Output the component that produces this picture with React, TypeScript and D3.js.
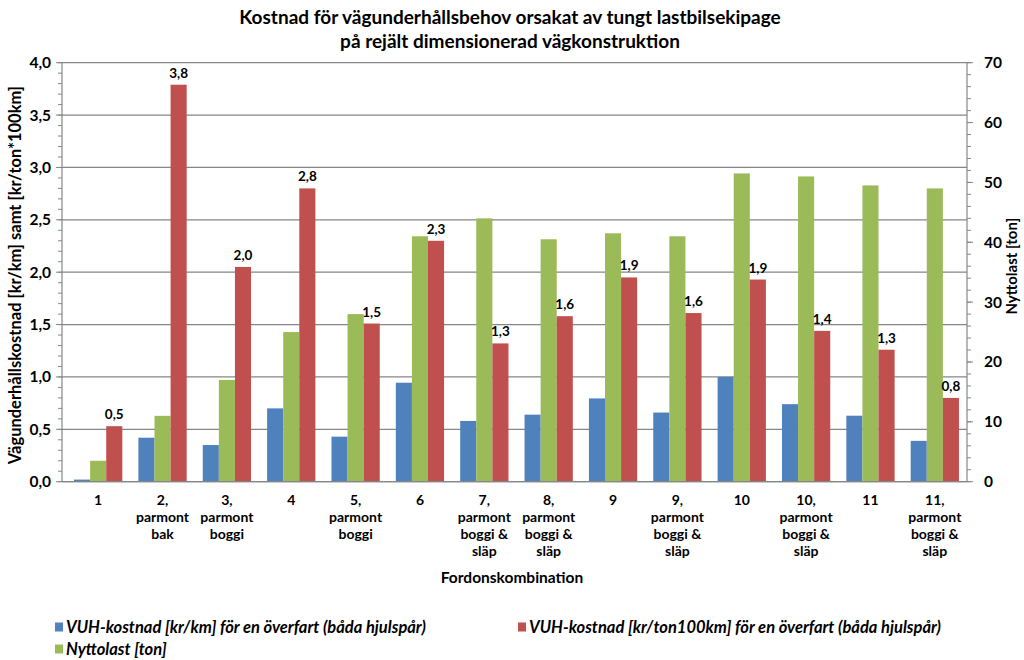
import React from 'react';
import * as d3 from 'd3';

// Categories (vehicle combinations), one line per row of the label
const categories = [
  '1',
  '2,\nparmont\nbak',
  '3,\nparmont\nboggi',
  '4',
  '5,\nparmont\nboggi',
  '6',
  '7,\nparmont\nboggi &\nsläp',
  '8,\nparmont\nboggi &\nsläp',
  '9',
  '9,\nparmont\nboggi &\nsläp',
  '10',
  '10,\nparmont\nboggi &\nsläp',
  '11',
  '11,\nparmont\nboggi &\nsläp'
];

// VUH-kostnad [kr/km]
const costPerKm = [0.02, 0.42, 0.35, 0.70, 0.43, 0.945, 0.58, 0.64, 0.795, 0.66, 1.0, 0.74, 0.63, 0.39];
// VUH-kostnad [kr/ton100km]
const costPerTon = [0.53, 3.79, 2.05, 2.80, 1.51, 2.30, 1.32, 1.58, 1.95, 1.61, 1.93, 1.44, 1.26, 0.80];
// Nyttolast [ton] (right axis)
const payload = [3.5, 11.0, 17.0, 25.0, 28.0, 41.0, 44.0, 40.5, 41.5, 41.0, 51.5, 51.0, 49.5, 49.0];

const leftTicks = [0, 0.5, 1, 1.5, 2, 2.5, 3, 3.5, 4];
const rightTicks = [0, 10, 20, 30, 40, 50, 60, 70];

const titleLines = [
  'Kostnad för vägunderhållsbehov orsakat av tungt lastbilsekipage',
  'på rejält dimensionerad vägkonstruktion'
];
const seriesNames = [
  'VUH-kostnad [kr/km] för en överfart (båda hjulspår)',
  'VUH-kostnad [kr/ton100km] för en överfart (båda hjulspår)',
  'Nyttolast [ton]'
];

const BLUE = '#4F81BD';
const RED = '#C0504D';
const GREEN = '#9BBB59';
const GRID = '#868686';
const FONT = 'Lato, "Open Sans", sans-serif';

const width = 1024;
const height = 660;
const plot = { left: 62, right: 967, top: 62.7, bottom: 481.7 };

const comma = (v: number, f = '.1f') => d3.format(f)(v).replace('.', ',');

export default function App() {
  const x = d3.scaleBand<number>()
    .domain(d3.range(categories.length))
    .range([plot.left + 4, plot.right])
    .paddingInner(0.25)
    .paddingOuter(0.125);

  const inner = d3.scaleBand<number>()
    .domain([0, 1, 2])
    .range([0, x.bandwidth()]);

  const yLeft = d3.scaleLinear().domain([0, 4]).range([plot.bottom, plot.top]);
  const yRight = d3.scaleLinear().domain([0, 70]).range([plot.bottom, plot.top]);

  const leftMinor = d3.range(0, 4.0001, 0.1);
  const rightMinor = d3.range(0, 70.001, 2);

  const bars = [
    { values: costPerKm, scale: yLeft, color: BLUE },
    { values: payload, scale: yRight, color: GREEN },
    { values: costPerTon, scale: yLeft, color: RED }
  ];

  return (
    <svg width={width} height={height} style={{ position: 'absolute', left: 0, top: 0, background: '#fff' }}
      fontFamily={FONT}>
      {/* title */}
      {titleLines.map((t, i) => (
        <text key={i} x={510} y={24 + i * 24} textAnchor="middle" fontSize={19} fontWeight="bold" fill="#000">{t}</text>
      ))}

      {/* gridlines */}
      {leftTicks.map(t => (
        <line key={t} x1={plot.left} x2={plot.right} y1={yLeft(t)} y2={yLeft(t)} stroke={GRID} strokeWidth={1.2} />
      ))}

      {/* bars */}
      {bars.map((s, si) => s.values.map((v, i) => (
        <rect key={`${si}-${i}`}
          x={(x(i) ?? 0) + (inner(si) ?? 0)}
          y={s.scale(v)}
          width={inner.bandwidth()}
          height={plot.bottom - s.scale(v)}
          fill={s.color} />
      )))}

      {/* data labels on red series */}
      {costPerTon.map((v, i) => (
        <text key={i}
          x={(x(i) ?? 0) + (inner(2) ?? 0) + inner.bandwidth() / 2}
          y={yLeft(v) - 7}
          textAnchor="middle" fontSize={13.5} fontWeight="bold" fill="#000">{comma(v)}</text>
      ))}

      {/* left axis */}
      <line x1={plot.left} x2={plot.left} y1={plot.top} y2={plot.bottom} stroke={GRID} strokeWidth={1.2} />
      {leftMinor.map((t, i) => (
        <line key={i} x1={plot.left - 4} x2={plot.left} y1={yLeft(t)} y2={yLeft(t)} stroke={GRID} />
      ))}
      {leftTicks.map(t => (
        <g key={t}>
          <line x1={plot.left - 6} x2={plot.left} y1={yLeft(t)} y2={yLeft(t)} stroke={GRID} />
          <text x={51} y={yLeft(t)} dy="0.35em" textAnchor="end" fontSize={15.5} fontWeight="bold" fill="#000">{comma(t)}</text>
        </g>
      ))}
      <text transform={`translate(15,${(plot.top + plot.bottom) / 2 + 3}) rotate(-90)`} textAnchor="middle"
        dy="0.35em" fontSize={16.5} fontWeight="bold" fill="#000">
        Vägunderhållskostnad [kr/km] samt [kr/ton*100km]
      </text>

      {/* right axis */}
      <line x1={plot.right} x2={plot.right} y1={plot.top} y2={plot.bottom} stroke={GRID} strokeWidth={1.2} />
      {rightMinor.map((t, i) => (
        <line key={i} x1={plot.right} x2={plot.right + 4} y1={yRight(t)} y2={yRight(t)} stroke={GRID} />
      ))}
      {rightTicks.map(t => (
        <g key={t}>
          <line x1={plot.right} x2={plot.right + 6} y1={yRight(t)} y2={yRight(t)} stroke={GRID} />
          <text x={984} y={yRight(t)} dy="0.35em" textAnchor="start" fontSize={15.5} fontWeight="bold" fill="#000">{t}</text>
        </g>
      ))}
      <text transform={`translate(1012,${(plot.top + plot.bottom) / 2 - 6}) rotate(-90)`} textAnchor="middle"
        dy="0.35em" fontSize={15} fontWeight="bold" fill="#000">
        Nyttolast [ton]
      </text>

      {/* x axis */}
      <line x1={plot.left} x2={plot.right} y1={plot.bottom} y2={plot.bottom} stroke={GRID} strokeWidth={1.2} />
      {categories.map((c, i) => (
        <text key={i} x={(x(i) ?? 0) + x.bandwidth() / 2} y={505} textAnchor="middle" fontSize={14} fontWeight="bold" fill="#000">
          {c.split('\n').map((line, li) => (
            <tspan key={li} x={(x(i) ?? 0) + x.bandwidth() / 2} dy={li === 0 ? 0 : 17}>{line}</tspan>
          ))}
        </text>
      ))}
      <text x={512} y={583} textAnchor="middle" fontSize={15.5} fontWeight="bold" fill="#000">Fordonskombination</text>

      {/* legend */}
      {[
        { name: seriesNames[0], color: BLUE, lx: 55, ly: 627 },
        { name: seriesNames[1], color: RED, lx: 518, ly: 627 },
        { name: seriesNames[2], color: GREEN, lx: 55, ly: 649 }
      ].map((l, i) => (
        <g key={i}>
          <rect x={l.lx} y={l.ly - 4.5} width={8} height={9} fill={l.color} />
          <text x={l.lx + 11} y={l.ly} dy="0.35em" fontSize={16.5} fontWeight="bold" fontStyle="italic" fill="#000">{l.name}</text>
        </g>
      ))}
    </svg>
  );
}
